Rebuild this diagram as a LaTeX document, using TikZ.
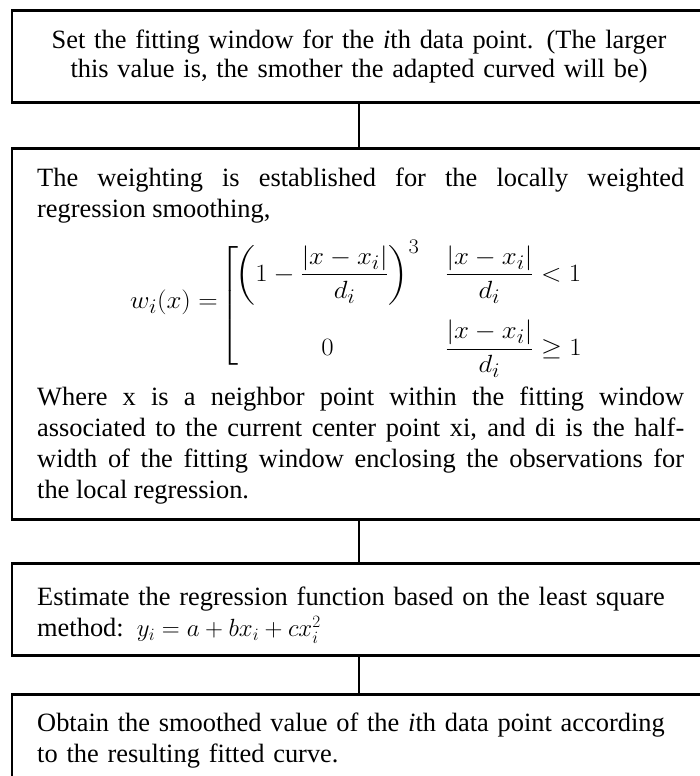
\documentclass[tikz,border=0pt]{standalone}
\usepackage{amsmath}
\usepackage{graphicx}
\usepackage{fontspec}
\setmainfont{Liberation Serif}
\begin{document}
\begin{tikzpicture}[x=1pt,y=-1pt,
  box/.style={draw, line width=2.6pt, minimum width=694pt, anchor=north, inner sep=0pt},
  link/.style={line width=1.6pt},
  txt/.style={inner sep=0pt, text width=647pt, font=\fontsize{26.4}{31}\selectfont}]
\useasboundingbox (0,0) rectangle (700,776);
\clip (0,0) rectangle (700,776);
% boxes
\node[box, minimum height=92pt]  (b1) at (359,9)   {};
\node[box, minimum height=371pt] (b2) at (359,147) {};
\node[box, minimum height=92pt]  (b3) at (359,562) {};
\node[box, minimum height=120pt] (b4) at (359,693) {};
% connectors
\draw[link] (b1.south) -- (b2.north);
\draw[link] (b2.south) -- (b3.north);
\draw[link] (b3.south) -- (b4.north);
% texts
\node[txt, align=center, anchor=north, font=\fontsize{26.4}{29}\selectfont] (t1) at (359,29.5)
  {Set the fitting window for the \textit{i}th data point. (The larger\\ this value is, the smother the adapted curved will be)};
\node[txt, align=justify, anchor=north west] (t2a) at (37,168)
  {The weighting is established for the locally weighted\linebreak regression smoothing,};
\node[inner sep=0pt, anchor=base west, font=\fontsize{29}{34}\selectfont] (eq) at (130,308)
  {\scalebox{1.08}[1]{$\displaystyle w_i(x)=\!\raisebox{-4pt}{$\left[\rule[-50pt]{0pt}{64pt}\right.$}\!\raisebox{-7pt}{$\displaystyle\begin{array}{@{}c@{\hspace{24pt}}l@{}}
     \left(1-\dfrac{|x-x_i|}{d_i}\right)^{3} & \dfrac{|x-x_i|}{d_i}<1\\[29pt]
     0 & \dfrac{|x-x_i|}{d_i}\geq 1
   \end{array}$}$}};
\node[txt, align=justify, anchor=north west] (t2b) at (37,387)
  {Where x is a neighbor point within the fitting window\linebreak associated to the current center point xi, and di is the half-\linebreak width of the fitting window enclosing the observations for\linebreak the local regression.};
\node[txt, align=left, anchor=north west] (t3) at (37,587)
  {Estimate the regression function based on the least square\\ method: $y_i=a+bx_i+cx_i^2$};
\node[txt, align=left, anchor=north west] (t4) at (37,713)
  {Obtain the smoothed value of the \textit{i}th data point according\\ to the resulting fitted curve.};
\end{tikzpicture}
\end{document}
